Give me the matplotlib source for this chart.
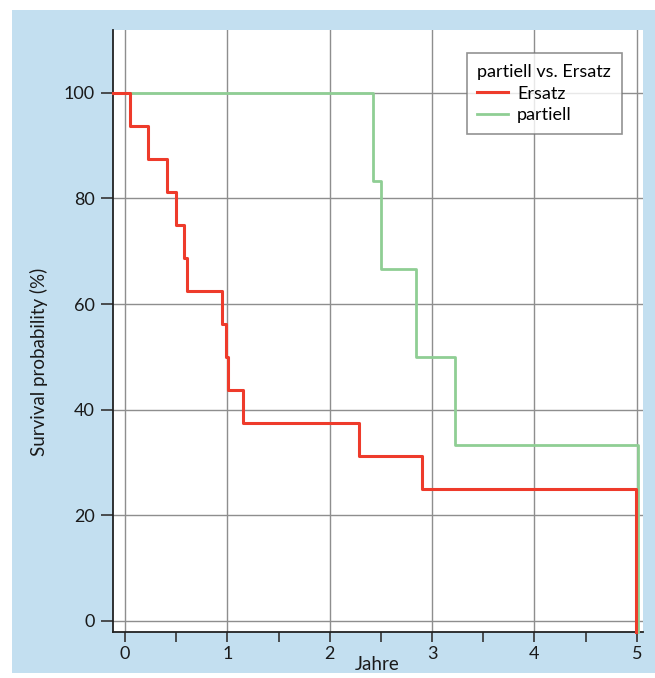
import matplotlib
matplotlib.use("Agg")
import matplotlib.pyplot as plt
from matplotlib.patches import Rectangle
from matplotlib.ticker import MultipleLocator

# Kaplan-Meier step data (time in years, survival %)
ersatz_t = [-0.117, 0.05, 0.22, 0.41, 0.50, 0.58, 0.61, 0.95, 0.99, 1.01, 1.15, 2.29, 2.90, 4.99]
ersatz_s = [100, 93.75, 87.5, 81.25, 75, 68.75, 62.5, 56.25, 50, 43.75, 37.5, 31.25, 25, -2.1]
partiell_t = [0.0, 2.42, 2.50, 2.84, 3.22, 5.01]
partiell_s = [100, 83.33, 66.67, 50, 33.33, -2.1]

x_ticks = [0, 1, 2, 3, 4, 5]
y_ticks = [0, 20, 40, 60, 80, 100]

RED = "#ee3b2b"
GREEN = "#8fce94"
BLUE_BG = "#c3dff0"

plt.rcParams['font.family'] = ['Lato', 'DejaVu Sans']

W, H = 655, 678
fig = plt.figure(figsize=(W / 100, H / 100), dpi=100)
fig.patch.set_facecolor("white")
fig.add_artist(Rectangle((12 / W, 1 - 673 / H), (W - 12) / W, (673 - 10) / H,
                         transform=fig.transFigure, facecolor=BLUE_BG,
                         edgecolor="none", zorder=0))

AX_L, AX_R, AX_T, AX_B = 113, 643, 30, 632
ax = fig.add_axes([AX_L / W, 1 - AX_B / H, (AX_R - AX_L) / W, (AX_B - AX_T) / H])
ax.set_facecolor("white")

ax.step(partiell_t, partiell_s, where="post", color=GREEN, lw=2.0,
        label="partiell", zorder=3, clip_on=False)
ax.step(ersatz_t, ersatz_s, where="post", color=RED, lw=2.2,
        label="Ersatz", zorder=4, clip_on=False)

ax.set_xlim(-0.117, 5.06)
ax.set_ylim(-2.1, 111.9)
ax.set_xticks(x_ticks)
ax.set_yticks(y_ticks)
ax.xaxis.set_minor_locator(MultipleLocator(0.5))
ax.grid(True, which="major", color="#8e8e8e", lw=1.0)
ax.set_axisbelow(True)

for s in ["top", "right"]:
    ax.spines[s].set_visible(False)
for s in ["left", "bottom"]:
    ax.spines[s].set_color("#222222")
    ax.spines[s].set_linewidth(1.3)

ax.tick_params(axis="both", which="major", direction="out",
               width=1.2, color="#333333", labelsize=13, labelcolor="#1a1a1a")
ax.tick_params(axis="y", which="major", length=8.5, pad=4.5)
ax.tick_params(axis="x", which="major", length=7.3, pad=3)
ax.tick_params(axis="x", which="minor", direction="out", length=7.3,
               width=1.2, color="#333333")

ax.set_ylabel("Survival probability (%)", fontsize=13.5, color="#1a1a1a")
ax.yaxis.set_label_coords((48 - AX_L) / (AX_R - AX_L), (AX_B - 362) / (AX_B - AX_T))
ax.set_xlabel("Jahre", fontsize=13.5, color="#1a1a1a")
ax.xaxis.set_label_coords((377 - AX_L) / (AX_R - AX_L), -(656 - AX_B) / (AX_B - AX_T))

handles, labels = ax.get_legend_handles_labels()
order = [1, 0]
leg = ax.legend([handles[i] for i in order], [labels[i] for i in order],
                title="partiell vs. Ersatz", loc="upper right",
                bbox_to_anchor=((622 - AX_L) / (AX_R - AX_L), 1 - (53 - AX_T) / (AX_B - AX_T)),
                fontsize=13, title_fontsize=13, frameon=True, fancybox=False,
                edgecolor="#777777", handlelength=1.7, handletextpad=0.5,
                borderpad=0.6, labelspacing=0.32, borderaxespad=0)
leg.get_frame().set_linewidth(1.2)
leg._legend_box.align = "left"

fig.savefig("out.png", dpi=100)
